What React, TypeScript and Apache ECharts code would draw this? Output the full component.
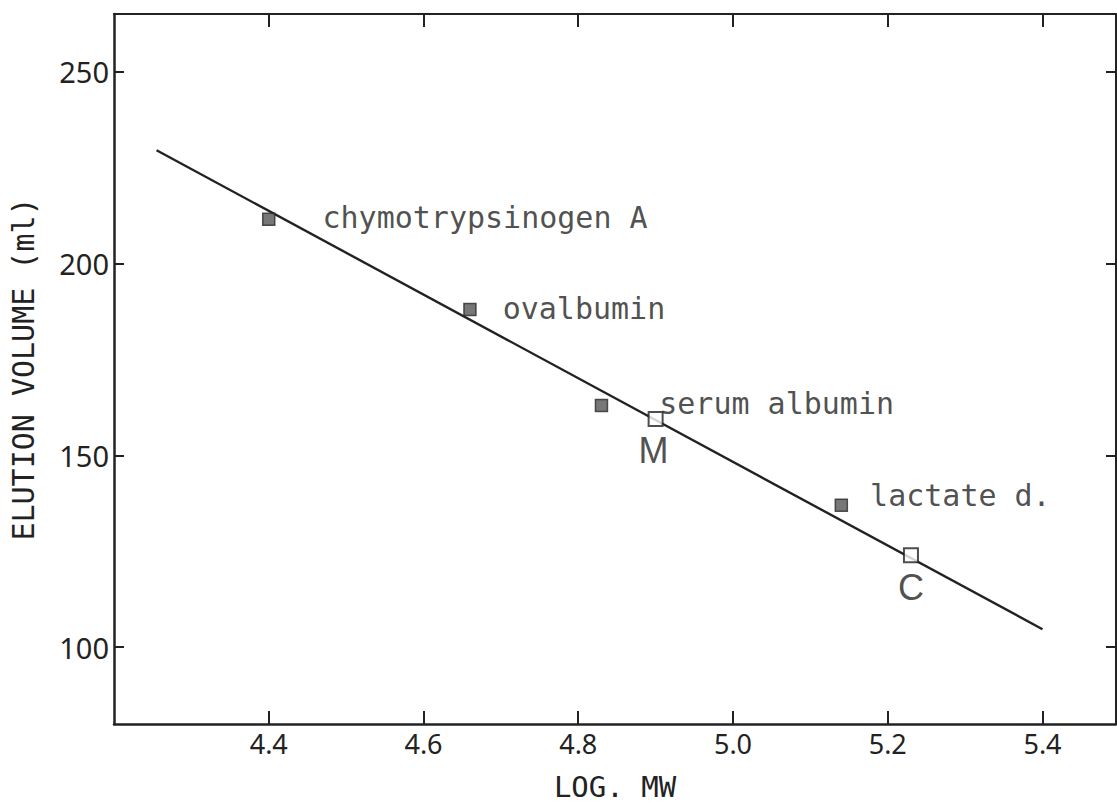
import React, { useEffect, useRef } from "react";
import * as echarts from "echarts";

// Axis ticks
const xTicks = [4.4, 4.6, 4.8, 5.0, 5.2, 5.4];
const yTicks = [100, 150, 200, 250];

// Calibration proteins (filled squares)
const proteinNames = ["chymotrypsinogen A", "ovalbumin", "serum albumin", "lactate d."];
const proteinLogMW = [4.40, 4.66, 4.83, 5.14];
const proteinElution = [211.5, 188, 163, 137];

// Samples (open squares)
const sampleNames = ["M", "C"];
const sampleLogMW = [4.90, 5.23];
const sampleElution = [159.5, 124];

// Calibration line end points
const fitLogMW = [4.255, 5.40];
const fitElution = [229.5, 104.7];

const INK = "#222";
const TEXT = "#222";
const MONO = "'DejaVu Sans Mono', monospace";

// label placement per protein: [distance to the right, vertical offset]
const proteinLabelPlacement: [number, number][] = [
  [47, -2],
  [26, -1],
  [51, -2],
  [22, -10],
];
const sampleLabelOffsets: [number, number][] = [
  [-2, 32],
  [0, 32],
];

export default function App() {
  const ref = useRef<HTMLDivElement>(null);

  useEffect(() => {
    if (!ref.current) return;
    const chart = echarts.init(ref.current, null, { renderer: "svg" });

    const proteinData = proteinNames.map((name, i) => ({
      name,
      value: [proteinLogMW[i], proteinElution[i]],
      label: {
        show: true,
        position: "right",
        distance: proteinLabelPlacement[i][0],
        offset: [0, proteinLabelPlacement[i][1]],
        formatter: "{b}",
        fontFamily: MONO,
        fontSize: 30,
        color: TEXT,
      },
    }));

    const sampleData = sampleNames.map((name, i) => ({
      name,
      value: [sampleLogMW[i], sampleElution[i]],
      label: {
        show: true,
        position: "inside",
        offset: sampleLabelOffsets[i],
        formatter: "{b}",
        fontFamily: "'Liberation Sans', Arial, sans-serif",
        fontSize: 36,
        color: TEXT,
      },
    }));

    chart.setOption({
      animation: false,
      backgroundColor: "#fff",
      grid: { left: 113, right: 1, top: 14, bottom: 78 },
      xAxis: [
        {
          type: "value",
          position: "bottom",
          min: 4.2,
          max: 5.495,
          name: "LOG. MW",
          nameLocation: "middle",
          nameGap: 48,
          nameTextStyle: { fontFamily: MONO, fontSize: 29, color: TEXT },
          axisLine: { show: true, lineStyle: { color: INK, width: 2.5 } },
          axisTick: {
            show: true,
            inside: true,
            length: 13,
            lineStyle: { color: INK, width: 2 },
            customValues: xTicks,
          },
          axisLabel: {
            show: true,
            customValues: xTicks,
            margin: 6,
            fontFamily: "'Noto Sans', sans-serif",
            fontSize: 27,
            color: TEXT,
            formatter: (v: number) => v.toFixed(1),
          },
          splitLine: { show: false },
        },
        {
          type: "value",
          position: "top",
          min: 4.2,
          max: 5.495,
          axisLine: { show: true, lineStyle: { color: INK, width: 2 } },
          axisTick: {
            show: true,
            inside: true,
            length: 13,
            lineStyle: { color: INK, width: 2 },
            customValues: xTicks,
          },
          axisLabel: { show: false },
          splitLine: { show: false },
        },
      ],
      yAxis: [
        {
          type: "value",
          position: "left",
          min: 80,
          max: 265,
          name: "ELUTION VOLUME (ml)",
          nameLocation: "middle",
          nameGap: 76,
          nameRotate: 90,
          nameTextStyle: { fontFamily: MONO, fontSize: 30, color: TEXT },
          axisLine: { show: true, lineStyle: { color: INK, width: 2.5 } },
          axisTick: {
            show: true,
            inside: true,
            length: 10,
            lineStyle: { color: INK, width: 2 },
            customValues: yTicks,
          },
          axisLabel: {
            show: true,
            customValues: yTicks,
            margin: 5,
            fontFamily: "'Noto Sans', sans-serif",
            fontSize: 29,
            color: TEXT,
          },
          splitLine: { show: false },
        },
        {
          type: "value",
          position: "right",
          min: 80,
          max: 265,
          axisLine: { show: true, lineStyle: { color: INK, width: 2 } },
          axisTick: {
            show: true,
            inside: true,
            length: 10,
            lineStyle: { color: INK, width: 2 },
            customValues: yTicks,
          },
          axisLabel: { show: false },
          splitLine: { show: false },
        },
      ],
      series: [
        {
          type: "line",
          name: "fit",
          xAxisIndex: 0,
          yAxisIndex: 0,
          data: fitLogMW.map((x, i) => [x, fitElution[i]]),
          showSymbol: false,
          symbol: "none",
          lineStyle: { color: INK, width: 2.4 },
          z: 2,
        },
        {
          type: "scatter",
          name: "proteins",
          xAxisIndex: 0,
          yAxisIndex: 0,
          symbol: "rect",
          symbolSize: 12,
          itemStyle: { color: "#555", borderColor: "#2a2a2a", borderWidth: 1.5 },
          data: proteinData,
          z: 3,
        },
        {
          type: "scatter",
          name: "samples",
          xAxisIndex: 0,
          yAxisIndex: 0,
          symbol: "rect",
          symbolSize: 14,
          itemStyle: { color: "#fff", borderColor: INK, borderWidth: 2 },
          data: sampleData,
          z: 4,
        },
      ],
    });

    return () => chart.dispose();
  }, []);

  return (
    <div
      ref={ref}
      style={{ position: "fixed", left: 0, top: 0, width: 1117, height: 806 }}
    />
  );
}
